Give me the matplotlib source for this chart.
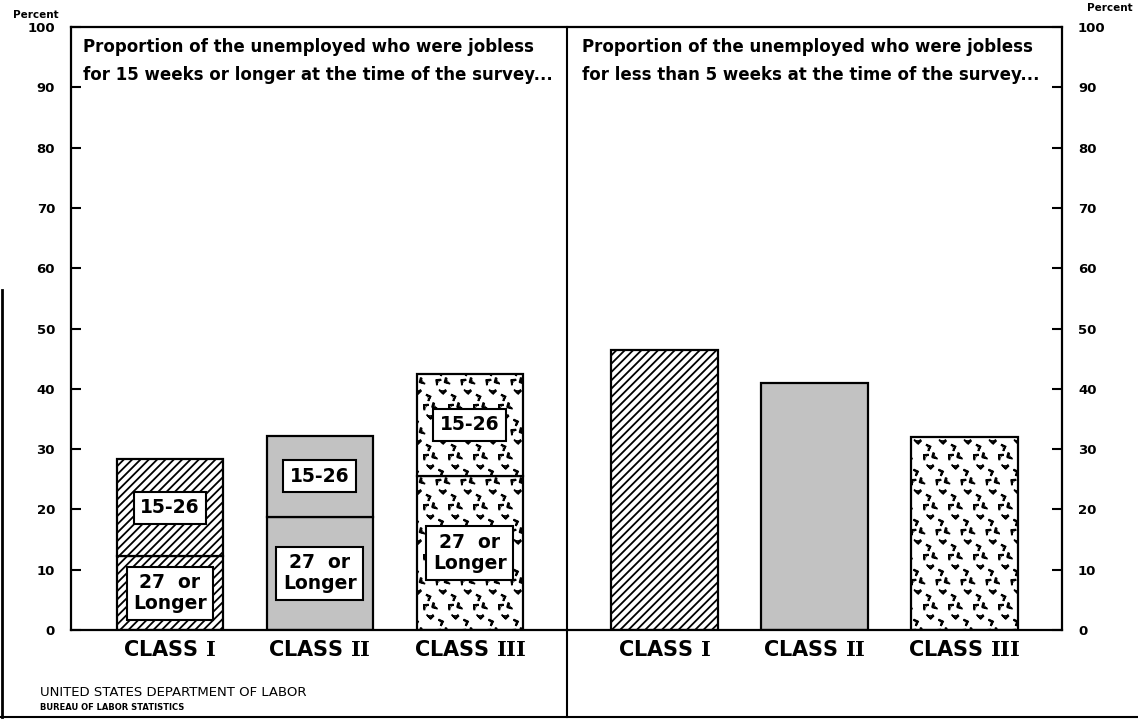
import numpy as np
import matplotlib
matplotlib.use('Agg')
import matplotlib.pyplot as plt
from matplotlib import hatch as mhatch
from matplotlib.path import Path
from matplotlib.lines import Line2D

# data (percent of the unemployed)
classes = ['I', 'II', 'III']
weeks_27_plus = [12.2, 18.8, 25.6]   # jobless 27 weeks or longer
weeks_15_26 = [16.2, 13.4, 16.9]     # jobless 15-26 weeks
under_5_weeks = [46.5, 41.0, 32.0]   # jobless less than 5 weeks
yticks = list(range(0, 101, 10))

title_left = "Proportion of the unemployed who were jobless\nfor 15 weeks or longer at the time of the survey..."
title_right = "Proportion of the unemployed who were jobless\nfor less than 5 weeks at the time of the survey..."


# scattered "chevron" marks used for Class III (replaces the '*' star hatch)
class Chevrons(mhatch.Shapes):
    filled = False
    size = 1.0

    def __init__(self, hatch, density):
        self.num_rows = hatch.count('*') * 4
        verts, codes = [], []
        arm = 0.16
        for cx, cy, ang in [(-0.3, 0.28, 90), (0.22, 0.14, 200), (-0.04, -0.22, 320),
                            (0.32, -0.3, 30)]:
            a = np.deg2rad(ang)
            p1 = (cx + arm * np.cos(a + np.pi / 4), cy + arm * np.sin(a + np.pi / 4))
            p2 = (cx + arm * np.cos(a - np.pi / 4), cy + arm * np.sin(a - np.pi / 4))
            verts += [p1, (cx, cy), p2]
            codes += [Path.MOVETO, Path.LINETO, Path.LINETO]
        self.shape_vertices = np.array(verts)
        self.shape_codes = np.array(codes, dtype=Path.code_type)
        super().__init__(hatch, density)


mhatch._hatch_types = [h for h in mhatch._hatch_types if h is not mhatch.Stars] + [Chevrons]

plt.rcParams['hatch.linewidth'] = 1.3
plt.rcParams['mathtext.fontset'] = 'custom'
plt.rcParams['mathtext.bf'] = 'DejaVu Serif:bold'
plt.rcParams['mathtext.rm'] = 'DejaVu Serif'

fills = ['white', '#c2c2c2', 'white']
hatches = ['////', '', '*']

fig = plt.figure(figsize=(11.38, 7.21), dpi=100)
ax = fig.add_axes([71 / 1138, 91 / 721, 991 / 1138, 603 / 721])
ax.set_xlim(-0.66, 5.95)
ax.set_ylim(0, 100)

x_left = np.arange(len(classes))
x_right = x_left + 3.3
w = 0.71

low = ax.bar(x_left, weeks_27_plus, width=w, color=fills, edgecolor='black', linewidth=1.6)
high = ax.bar(x_left, weeks_15_26, bottom=weeks_27_plus, width=w, color=fills,
              edgecolor='black', linewidth=1.6)
short = ax.bar(x_right, under_5_weeks, width=w, color=fills, edgecolor='black', linewidth=1.6)
for group in (low, high, short):
    for patch, h in zip(group.patches, hatches):
        patch.set_hatch(h)

# labels inside the stacked bars
box = dict(boxstyle='square,pad=0.35', fc='white', ec='black', lw=1.5)
for i in range(len(classes)):
    ax.text(x_left[i], weeks_27_plus[i] / 2, '27  or\nLonger', ha='center', va='center',
            fontsize=13.5, fontweight='bold', linespacing=1.15, bbox=box)
    ax.text(x_left[i], weeks_27_plus[i] + weeks_15_26[i] / 2, '15-26', ha='center',
            va='center', fontsize=13.5, fontweight='bold', bbox=box)

# panel divider, running down to the bottom border
ax.axvline(2.65, ymin=-0.145, ymax=1, color='black', lw=1.5, clip_on=False)

ax.text(-0.58, 94.3, title_left, ha='left', va='center', fontsize=12,
        fontweight='bold', linespacing=1.72)
ax.text(2.75, 94.3, title_right, ha='left', va='center', fontsize=12,
        fontweight='bold', linespacing=1.72)

ax.set_xticks(list(x_left) + list(x_right),
              [r'CLASS $\mathbf{%s}$' % c for c in classes] * 2)
ax.tick_params(axis='x', length=0, pad=7, labelsize=15)
for lbl in ax.get_xticklabels():
    lbl.set_fontweight('bold')

ax.set_yticks(yticks)
ax.tick_params(axis='y', direction='in', length=7, width=1.5, left=True, right=True,
               labelleft=True, labelright=True, labelsize=9.5)
for t in ax.yaxis.get_major_ticks():
    t.set_pad(11.5)
for lbl in ax.get_yticklabels():
    lbl.set_fontweight('bold')
for s in ax.spines.values():
    s.set_linewidth(1.6)

fig.text(36 / 1138, 1 - 15 / 721, 'Percent', ha='center', va='center', fontsize=7.5, fontweight='bold')
fig.text(1110 / 1138, 1 - 8 / 721, 'Percent', ha='center', va='center', fontsize=7.5, fontweight='bold')

fig.text(40 / 1138, 1 - 692 / 721, 'UNITED STATES DEPARTMENT OF LABOR', ha='left', va='center',
         fontsize=9.5)
fig.text(40 / 1138, 1 - 708 / 721, 'BUREAU OF LABOR STATISTICS', ha='left', va='center',
         fontsize=6, fontweight='bold')

# outer border pieces of the scanned page
fig.add_artist(Line2D([0.002, 0.002], [1 - 290 / 721, 1 - 717 / 721], color='black', lw=2))
fig.add_artist(Line2D([0, 1], [1 - 717 / 721, 1 - 717 / 721], color='black', lw=1.5))

fig.savefig('out.png', dpi=100)
